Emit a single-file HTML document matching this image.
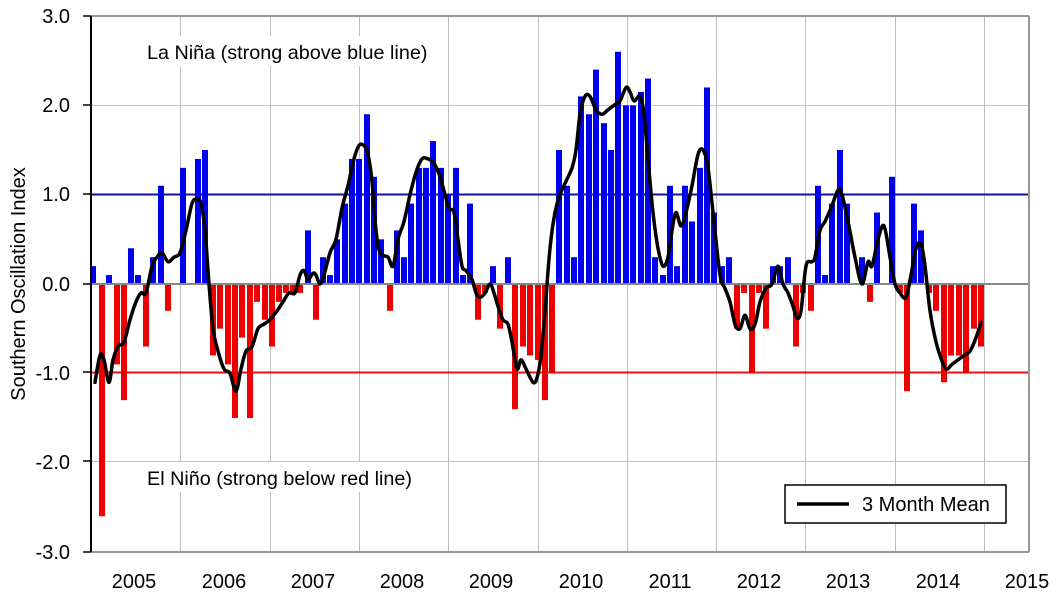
<!DOCTYPE html>
<html><head><meta charset="utf-8"><style>
html,body{margin:0;padding:0;background:#fff;}
svg{display:block;font-family:"Liberation Sans",Arial,sans-serif;}
</style></head><body>
<svg id="c" width="1062" height="597" viewBox="0 0 1062 597" xmlns="http://www.w3.org/2000/svg">
<rect width="1062" height="597" fill="#fff"/>
<g id="grid" stroke="#c0c0c0" stroke-width="1"></g>
<line x1="91" y1="194.5" x2="1029" y2="194.5" stroke="#1010a0" stroke-width="2"/>
<line x1="91" y1="372.5" x2="1029" y2="372.5" stroke="#e81010" stroke-width="2"/>
<rect x="132" y="36" width="310" height="30" fill="#fff"/>
<rect x="125" y="462" width="306" height="30" fill="#fff"/>
<g id="bars"></g>
<line x1="91" y1="284" x2="1029" y2="284" stroke="#888" stroke-width="2"/>
<path id="mean" fill="none" stroke="#000" stroke-width="3.5" stroke-linejoin="round" stroke-linecap="round"/>
<line x1="91" y1="16" x2="1029" y2="16" stroke="#999" stroke-width="2"/>
<line x1="91" y1="552" x2="1029" y2="552" stroke="#999" stroke-width="2"/>
<line x1="1029" y1="16" x2="1029" y2="552" stroke="#999" stroke-width="2"/>
<line x1="91" y1="16" x2="91" y2="552" stroke="#000" stroke-width="2"/>
<g id="ticks" stroke="#000" stroke-width="1.5"></g>
<g font-size="20" text-anchor="end" fill="#000">
<text x="70" y="23">3.0</text><text x="70" y="112">2.0</text><text x="70" y="201">1.0</text>
<text x="70" y="291">0.0</text><text x="70" y="380">-1.0</text><text x="70" y="469">-2.0</text><text x="70" y="559">-3.0</text>
</g>
<g font-size="20" text-anchor="middle" fill="#000">
<text x="134" y="588">2005</text><text x="224" y="588">2006</text><text x="313" y="588">2007</text>
<text x="402" y="588">2008</text><text x="491" y="588">2009</text><text x="581" y="588">2010</text>
<text x="670" y="588">2011</text><text x="759" y="588">2012</text><text x="848" y="588">2013</text>
<text x="938" y="588">2014</text><text x="1027" y="588">2015</text>
</g>
<text transform="translate(25,284) rotate(-90)" font-size="20" text-anchor="middle">Southern Oscillation Index</text>
<text x="147" y="59" font-size="19.8">La Niña (strong above blue line)</text>
<text x="147" y="485" font-size="19.8">El Niño (strong below red line)</text>
<rect x="785" y="485" width="221" height="38" fill="#fff" stroke="#000" stroke-width="1.5"/>
<line x1="797" y1="504" x2="849" y2="504" stroke="#000" stroke-width="3.5"/>
<text x="862" y="511" font-size="20">3 Month Mean</text>
</svg>
<script>
var Z=284,S=89.33;function Y(v){return Z-v*S;}
var g=document.getElementById('grid'),h='';
[105,194,372,461].forEach(function(y){h+='<line x1="91" y1="'+(y+0.5)+'" x2="1029" y2="'+(y+0.5)+'"/>';});
for(var i=1;i<=10;i++){var x=Math.round(91+i*89.3)+0.5;h+='<line x1="'+x+'" y1="16" x2="'+x+'" y2="552"/>';}
g.innerHTML=h;
var t='';[16,105,194,284,372,461,552].forEach(function(y){t+='<line x1="83" y1="'+y+'" x2="91" y2="'+y+'"/>';});
document.getElementById('ticks').innerHTML=t;
var B=[[90,0.2],[99,-2.6],[106,0.1],[114,-0.9],[121,-1.3],[128,0.4],[135,0.1],[143,-0.7],[150,0.3],[158,1.1],[165,-0.3],
[180,1.3],[195,1.4],[202,1.5],[210,-0.8],[217,-0.5],[225,-0.9],[232,-1.5],[239,-0.6],[247,-1.5],[254,-0.2],[262,-0.4],
[269,-0.7],[276,-0.2],[283,-0.1],[290,-0.1],[297,-0.1],[305,0.6],[313,-0.4],[320,0.3],[327,0.1],[334,0.5],[342,0.9],[349,1.4],
[356,1.4],[364,1.9],[371,1.2],[378,0.5],[387,-0.3],[394,0.6],[401,0.3],[408,0.9],[416,1.3],[423,1.3],[430,1.6],[438,1.3],
[445,1.0],[453,1.3],[460,0.1],[467,0.9],[475,-0.4],[482,-0.1],[490,0.2],[497,-0.5],[505,0.3],[512,-1.4],[520,-0.7],[527,-0.8],
[535,-0.85],[542,-1.3],[549,-1.0],[556,1.5],[564,1.1],[571,0.3],[578,2.1],[586,1.9],[593,2.4],[601,1.8],[608,1.5],[615,2.6],
[623,2.0],[630,2.0],[638,2.15],[645,2.3],[652,0.3],[660,0.1],[667,1.1],[674,0.2],[682,1.1],[689,0.7],[697,1.3],[704,2.2],
[711,0.8],[719,0.2],[726,0.3],[734,-0.5],[741,-0.1],[749,-1.0],[756,-0.1],[763,-0.5],[770,0.2],[777,0.2],[785,0.3],[793,-0.7],
[800,-0.1],[808,-0.3],[815,1.1],[822,0.1],[829,0.9],[837,1.5],[844,0.9],[859,0.3],[867,-0.2],[874,0.8],[889,1.2],
[897,-0.1],[904,-1.2],[911,0.9],[918,0.6],[926,-0.1],[933,-0.3],[941,-1.1],[948,-0.8],[956,-0.8],[963,-1.0],[971,-0.5],[978,-0.7]];
var b='';B.forEach(function(d){var v=d[1],y0=v>0?Y(v):Z,hh=Math.abs(v)*S;b+='<rect x="'+d[0]+'" y="'+y0+'" width="6" height="'+hh+'" fill="'+(v>0?'#0000ee':'#ee0000')+'"/>';});
document.getElementById('bars').innerHTML=b;
var M=[[95,-1.1],[100,-0.8],[104,-0.85],[109,-1.1],[113,-0.85],[118,-0.7],[124,-0.65],[130,-0.4],[136,-0.2],[141,-0.1],[146,-0.1],[152,0.2],[157,0.3],[162,0.35],[168,0.25],[174,0.3],[180,0.35],[186,0.6],[192,0.9],[197,0.95],[201,0.9],[205,0.6],[209,0.0],[213,-0.5],[218,-0.75],[224,-0.95],[230,-1.0],[236,-1.2],[241,-0.95],[246,-0.75],[252,-0.7],[258,-0.5],[264,-0.45],[270,-0.4],[277,-0.3],[283,-0.2],[289,-0.1],[295,-0.1],[300,0.1],[304,0.15],[308,0.05],[313,0.12],[316,0.1],[320,0.0],[324,0.1],[330,0.35],[336,0.5],[342,0.85],[348,1.1],[354,1.4],[359,1.55],[364,1.55],[368,1.45],[372,1.15],[376,0.6],[380,0.35],[388,0.3],[393,0.2],[398,0.5],[404,0.7],[410,1.0],[416,1.25],[422,1.4],[428,1.4],[434,1.35],[440,1.2],[445,1.0],[449,0.85],[454,0.8],[458,0.5],[462,0.2],[466,0.15],[472,0.05],[476,-0.1],[480,-0.15],[485,-0.1],[490,0.0],[494,-0.1],[498,-0.25],[503,-0.4],[508,-0.45],[512,-0.65],[517,-0.95],[521,-0.85],[526,-0.95],[533,-1.1],[537,-1.05],[541,-0.8],[545,-0.3],[550,0.4],[555,0.8],[560,1.0],[566,1.15],[572,1.3],[576,1.5],[580,1.9],[585,2.1],[590,2.1],[596,1.95],[602,1.9],[608,1.95],[614,2.0],[620,2.05],[626,2.2],[630,2.15],[634,2.05],[640,2.1],[644,1.9],[648,1.4],[653,0.8],[658,0.4],[663,0.2],[668,0.3],[672,0.6],[676,0.8],[681,0.65],[686,0.8],[692,1.1],[698,1.45],[703,1.5],[708,1.3],[714,0.7],[720,0.1],[725,-0.05],[730,-0.2],[735,-0.45],[740,-0.5],[745,-0.35],[750,-0.5],[755,-0.45],[760,-0.2],[766,-0.05],[772,0.0],[778,0.2],[783,0.0],[788,-0.1],[793,-0.25],[797,-0.38],[801,-0.3],[806,0.2],[812,0.25],[815,0.3],[820,0.6],[825,0.7],[831,0.85],[838,1.05],[842,1.0],[848,0.7],[855,0.3],[862,0.0],[868,0.25],[872,0.2],[878,0.5],[884,0.65],[890,0.3],[895,0.0],[900,-0.1],[906,-0.15],[911,0.1],[916,0.4],[921,0.45],[925,0.2],[930,-0.3],[935,-0.6],[940,-0.8],[946,-0.95],[952,-0.9],[958,-0.85],[964,-0.8],[970,-0.75],[976,-0.6],[981,-0.43]];
var P=M.map(function(d){return [d[0],Y(d[1])];});
var p='M'+P[0][0]+','+P[0][1].toFixed(1);
for(var k=0;k<P.length-1;k++){var p0=P[k>0?k-1:k],p1=P[k],p2=P[k+1],p3=P[k+2<P.length?k+2:k+1];
var c1x=p1[0]+(p2[0]-p0[0])/6,c1y=p1[1]+(p2[1]-p0[1])/6,c2x=p2[0]-(p3[0]-p1[0])/6,c2y=p2[1]-(p3[1]-p1[1])/6;
p+=' C'+c1x.toFixed(1)+','+c1y.toFixed(1)+' '+c2x.toFixed(1)+','+c2y.toFixed(1)+' '+p2[0]+','+p2[1].toFixed(1);}
document.getElementById('mean').setAttribute('d',p);
</script>
</body></html>
